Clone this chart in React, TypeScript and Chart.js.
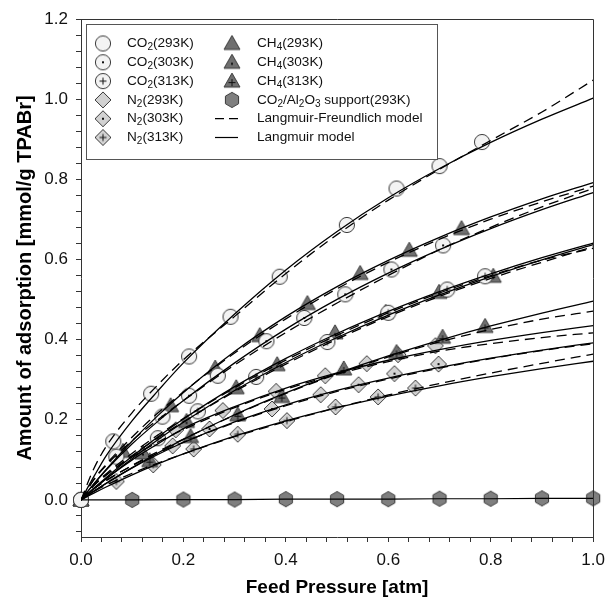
import React, { useEffect, useRef } from 'react';
import { Chart, registerables } from 'chart.js';

Chart.register(...registerables);

const FONT = '"Liberation Sans", Arial, Helvetica, sans-serif';

// ---- axes ----
const X_MAJOR = [0, 0.2, 0.4, 0.6, 0.8, 1.0];
const Y_MAJOR = [0, 0.2, 0.4, 0.6, 0.8, 1.0, 1.2];
const MINOR_STEP = 0.04;
const X_MIN = 0;
const X_MAX = 1;
const Y_MIN = -0.0925;
const Y_MAX = 1.2;
const X_TITLE = 'Feed Pressure [atm]';
const Y_TITLE = 'Amount of adsorption [mmol/g TPABr]';

// ---- measured points ----
const CO2_293_X = [0, 0.063, 0.137, 0.211, 0.292, 0.388, 0.519, 0.616, 0.7, 0.783];
const CO2_293_Y = [0, 0.146, 0.265, 0.358, 0.457, 0.557, 0.686, 0.777, 0.833, 0.893];
const CO2_303_X = [0, 0.069, 0.159, 0.211, 0.267, 0.362, 0.436, 0.516, 0.606, 0.707];
const CO2_303_Y = [0, 0.108, 0.208, 0.26, 0.31, 0.396, 0.454, 0.513, 0.575, 0.635];
const CO2_313_X = [0, 0.15, 0.228, 0.342, 0.481, 0.6, 0.715, 0.789];
const CO2_313_Y = [0, 0.154, 0.221, 0.307, 0.394, 0.467, 0.525, 0.558];
const N2_293_X = [0, 0.185, 0.277, 0.381, 0.477, 0.558, 0.619, 0.692];
const N2_293_Y = [0, 0.175, 0.223, 0.271, 0.31, 0.34, 0.3625, 0.385];
const N2_303_X = [0, 0.179, 0.251, 0.373, 0.468, 0.542, 0.612, 0.698];
const N2_303_Y = [0, 0.135, 0.177, 0.227, 0.2625, 0.2875, 0.315, 0.339];
const N2_313_X = [0, 0.069, 0.141, 0.22, 0.306, 0.402, 0.497, 0.58, 0.653];
const N2_313_Y = [0, 0.046, 0.0875, 0.127, 0.164, 0.198, 0.232, 0.257, 0.279];
const CH4_293_X = [0, 0.082, 0.175, 0.262, 0.349, 0.442, 0.545, 0.641, 0.743];
const CH4_293_Y = [0, 0.121, 0.235, 0.329, 0.41, 0.49, 0.565, 0.623, 0.677];
const CH4_303_X = [0, 0.121, 0.206, 0.303, 0.383, 0.496, 0.595, 0.699, 0.805];
const CH4_303_Y = [0, 0.117, 0.196, 0.28, 0.3375, 0.417, 0.468, 0.518, 0.558];
const CH4_313_X = [0, 0.134, 0.214, 0.306, 0.392, 0.513, 0.616, 0.706, 0.789];
const CH4_313_Y = [0, 0.098, 0.158, 0.2125, 0.258, 0.327, 0.368, 0.406, 0.433];
const SUP_X = [0, 0.1, 0.2, 0.3, 0.4, 0.5, 0.6, 0.7, 0.8, 0.9, 1.0];
const SUP_Y = [0, 0, 0.001, 0.001, 0.002, 0.002, 0.002, 0.003, 0.003, 0.004, 0.004];

// ---- model curves ----
const FIT_X = [0, 0.025, 0.05, 0.1, 0.15, 0.2, 0.3, 0.4, 0.5, 0.6, 0.7, 0.8, 0.9, 1.0];
const CO2_293_L = [0, 0.058, 0.112, 0.198, 0.272, 0.342, 0.464, 0.574, 0.67, 0.754, 0.827, 0.892, 0.95, 1.0025];
const CO2_293_LF = [0, 0.078, 0.135, 0.218, 0.287, 0.35, 0.458, 0.565, 0.662, 0.748, 0.825, 0.897, 0.968, 1.0475];
const CO2_303_L = [0, 0.04, 0.076, 0.14, 0.196, 0.248, 0.3419, 0.4262, 0.5003, 0.5659, 0.6244, 0.6769, 0.7242, 0.767];
const CO2_303_LF = [0, 0.05, 0.0874, 0.1484, 0.2, 0.248, 0.3368, 0.4177, 0.4913, 0.5602, 0.6244, 0.6803, 0.7314, 0.777];
const CO2_313_L = [0, 0.0273, 0.0537, 0.1036, 0.1502, 0.1938, 0.2729, 0.3429, 0.4052, 0.4612, 0.5116, 0.5573, 0.5989, 0.637];
const CO2_313_LF = [0, 0.0355, 0.0628, 0.1109, 0.1547, 0.1948, 0.2702, 0.3388, 0.4011, 0.4575, 0.508, 0.5528, 0.593, 0.632];
const CH4_293_L = [0, 0.0395, 0.0771, 0.1469, 0.2104, 0.2683, 0.3704, 0.4573, 0.5323, 0.5976, 0.6551, 0.706, 0.7513, 0.792];
const CH4_293_LF = [0, 0.0514, 0.0902, 0.1572, 0.2167, 0.2696, 0.3667, 0.4518, 0.527, 0.5928, 0.6505, 0.7004, 0.7438, 0.783];
const CH4_303_L = [0, 0.0289, 0.0566, 0.1088, 0.1571, 0.202, 0.2826, 0.3531, 0.4153, 0.4705, 0.5199, 0.5643, 0.6045, 0.641];
const CH4_303_LF = [0, 0.0376, 0.0662, 0.1164, 0.1618, 0.203, 0.2798, 0.3489, 0.4111, 0.4667, 0.5163, 0.5598, 0.5985, 0.628];
const CH4_313_L = [0, 0.0213, 0.0418, 0.0807, 0.117, 0.151, 0.2126, 0.2671, 0.3156, 0.3592, 0.3984, 0.434, 0.4664, 0.496];
const CH4_313_LF = [0, 0.0277, 0.0489, 0.0863, 0.1205, 0.1518, 0.2115, 0.2658, 0.314, 0.3567, 0.3944, 0.4253, 0.451, 0.471];
const N2_293_L = [0, 0.028, 0.0539, 0.1, 0.1398, 0.178, 0.2327, 0.2791, 0.317, 0.3485, 0.3751, 0.398, 0.4177, 0.435];
const N2_293_LF = [0, 0.0364, 0.0631, 0.107, 0.144, 0.1756, 0.2304, 0.2763, 0.3138, 0.345, 0.3713, 0.39, 0.405, 0.417];
const N2_303_L = [0, 0.0219, 0.0424, 0.0799, 0.1133, 0.1433, 0.1948, 0.2374, 0.2734, 0.304, 0.3305, 0.3537, 0.374, 0.392];
const N2_303_LF = [0, 0.0285, 0.0496, 0.0855, 0.1167, 0.144, 0.1929, 0.235, 0.2707, 0.3016, 0.3289, 0.3527, 0.3728, 0.39];
const N2_313_L = [0, 0.0168, 0.0328, 0.0627, 0.0899, 0.1149, 0.1593, 0.1973, 0.2303, 0.2592, 0.2847, 0.3074, 0.3277, 0.346];
const N2_313_LF = [0, 0.021, 0.0377, 0.0665, 0.0917, 0.1149, 0.1577, 0.1953, 0.2303, 0.2618, 0.2904, 0.3166, 0.3408, 0.364];

// ---- legend ----
const LEGEND_LABELS = [
  'CO_2(293K)', 'CO_2(303K)', 'CO_2(313K)', 'N_2(293K)', 'N_2(303K)', 'N_2(313K)',
  'CH_4(293K)', 'CH_4(303K)', 'CH_4(313K)', 'CO_2/Al_2O_3 support(293K)',
  'Langmuir-Freundlich model', 'Langmuir model',
];

const CIRCLE_FILL = '#f3f3f3';
const DIAMOND_FILL = '#d2d2d2';
const TRIANGLE_FILL = '#6f6f6f';
const HEX_FILL = '#7f7f7f';

function makeMarker(shape: string, fill: string, inner: string): HTMLCanvasElement {
  const S = 22;
  const c = document.createElement('canvas');
  c.width = S;
  c.height = S;
  const g = c.getContext('2d') as CanvasRenderingContext2D;
  const cx = S / 2;
  const cy = S / 2;
  let iy = cy;
  g.beginPath();
  if (shape === 'circle') {
    g.arc(cx, cy, 7.6, 0, Math.PI * 2);
  } else if (shape === 'diamond') {
    const r = 8;
    g.moveTo(cx, cy - r);
    g.lineTo(cx + r, cy);
    g.lineTo(cx, cy + r);
    g.lineTo(cx - r, cy);
    g.closePath();
  } else if (shape === 'triangle') {
    g.moveTo(cx, cy - 8);
    g.lineTo(cx + 8, cy + 6);
    g.lineTo(cx - 8, cy + 6);
    g.closePath();
    iy = cy + 1.5;
  } else {
    for (let i = 0; i < 6; i++) {
      const a = -Math.PI / 2 + (i * Math.PI) / 3;
      const px = cx + 7.6 * Math.cos(a);
      const py = cy + 7.6 * Math.sin(a);
      if (i === 0) g.moveTo(px, py);
      else g.lineTo(px, py);
    }
    g.closePath();
  }
  g.fillStyle = fill;
  g.fill();
  g.strokeStyle = '#3a3a3a';
  g.lineWidth = 1;
  g.stroke();
  g.fillStyle = '#111';
  g.strokeStyle = '#111';
  if (inner === 'dot') g.fillRect(cx - 1, iy - 1, 2, 2);
  if (inner === 'plus') {
    g.beginPath();
    g.moveTo(cx - 3.5, iy);
    g.lineTo(cx + 3.5, iy);
    g.moveTo(cx, iy - 3.5);
    g.lineTo(cx, iy + 3.5);
    g.stroke();
  }
  return c;
}

function drawRich(ctx: CanvasRenderingContext2D, text: string, x: number, y: number) {
  const runs: { t: string; sub: boolean }[] = [];
  for (let i = 0; i < text.length; i++) {
    if (text[i] === '_' && i + 1 < text.length) {
      runs.push({ t: text[i + 1], sub: true });
      i++;
    } else {
      const last = runs[runs.length - 1];
      if (last && !last.sub) last.t += text[i];
      else runs.push({ t: text[i], sub: false });
    }
  }
  let cx = x;
  for (const r of runs) {
    ctx.font = r.sub ? `10px ${FONT}` : `13.6px ${FONT}`;
    ctx.fillText(r.t, cx, r.sub ? y + 4 : y);
    cx += ctx.measureText(r.t).width;
  }
}

const isMajor = (v: number, majors: number[]) => majors.some((m) => Math.abs(m - v) < 1e-6);

export default function App() {
  const ref = useRef<HTMLCanvasElement | null>(null);

  useEffect(() => {
    if (!ref.current) return;
    const M = {
      co2a: makeMarker('circle', CIRCLE_FILL, 'none'),
      co2b: makeMarker('circle', CIRCLE_FILL, 'dot'),
      co2c: makeMarker('circle', CIRCLE_FILL, 'plus'),
      n2a: makeMarker('diamond', DIAMOND_FILL, 'none'),
      n2b: makeMarker('diamond', DIAMOND_FILL, 'dot'),
      n2c: makeMarker('diamond', DIAMOND_FILL, 'plus'),
      ch4a: makeMarker('triangle', TRIANGLE_FILL, 'none'),
      ch4b: makeMarker('triangle', TRIANGLE_FILL, 'dot'),
      ch4c: makeMarker('triangle', TRIANGLE_FILL, 'plus'),
      sup: makeMarker('hexagon', HEX_FILL, 'none'),
    };

    const curve = (ys: number[], dashed: boolean) => ({
      data: FIT_X.map((x, i) => ({ x, y: ys[i] })),
      showLine: true,
      borderColor: '#000',
      borderWidth: 1.3,
      borderDash: dashed ? [10, 6] : [],
      pointRadius: 0,
      pointHoverRadius: 0,
      fill: false,
      cubicInterpolationMode: 'monotone' as const,
    });
    const pts = (xs: number[], ys: number[], marker: HTMLCanvasElement) => ({
      data: xs.map((x, i) => ({ x, y: ys[i] })),
      showLine: false,
      pointStyle: marker,
      pointRadius: 7,
      pointHoverRadius: 7,
      clip: false as const,
    });

    const datasets: any[] = [
      curve(CO2_293_LF, true), curve(CO2_293_L, false),
      curve(CO2_303_LF, true), curve(CO2_303_L, false),
      curve(CO2_313_LF, true), curve(CO2_313_L, false),
      curve(CH4_293_LF, true), curve(CH4_293_L, false),
      curve(CH4_303_LF, true), curve(CH4_303_L, false),
      curve(CH4_313_LF, true), curve(CH4_313_L, false),
      curve(N2_293_LF, true), curve(N2_293_L, false),
      curve(N2_303_LF, true), curve(N2_303_L, false),
      curve(N2_313_LF, true), curve(N2_313_L, false),
      {
        data: SUP_X.map((x, i) => ({ x, y: SUP_Y[i] })),
        showLine: true, borderColor: '#000', borderWidth: 1.2, pointRadius: 0, tension: 0,
      },
      pts(CO2_293_X, CO2_293_Y, M.co2a),
      pts(CO2_303_X, CO2_303_Y, M.co2b),
      pts(CO2_313_X, CO2_313_Y, M.co2c),
      pts(CH4_293_X, CH4_293_Y, M.ch4a),
      pts(CH4_303_X, CH4_303_Y, M.ch4b),
      pts(CH4_313_X, CH4_313_Y, M.ch4c),
      pts(N2_293_X, N2_293_Y, M.n2a),
      pts(N2_303_X, N2_303_Y, M.n2b),
      pts(N2_313_X, N2_313_Y, M.n2c),
      pts(SUP_X, SUP_Y, M.sup),
    ];

    const legendMarkers = [M.co2a, M.co2b, M.co2c, M.n2a, M.n2b, M.n2c, M.ch4a, M.ch4b, M.ch4c, M.sup];

    const framePlugin = {
      id: 'frameLegend',
      afterDraw(chart: any) {
        const ctx: CanvasRenderingContext2D = chart.ctx;
        const a = chart.chartArea;
        ctx.save();
        ctx.strokeStyle = '#333';
        ctx.lineWidth = 1;
        ctx.beginPath();
        ctx.moveTo(Math.round(a.left), Math.round(a.top) + 0.5);
        ctx.lineTo(Math.round(a.right) + 0.5, Math.round(a.top) + 0.5);
        ctx.lineTo(Math.round(a.right) + 0.5, Math.round(a.bottom));
        ctx.stroke();

        // legend box
        const bx = 86.5, by = 24.5, bw = 351, bh = 135;
        ctx.fillStyle = '#fff';
        ctx.fillRect(bx, by, bw, bh);
        ctx.strokeStyle = '#555';
        ctx.strokeRect(bx, by, bw, bh);

        const rows = [43.5, 62.3, 81.1, 99.9, 118.7, 137.5];
        const col = [{ m: 103, t: 127 }, { m: 232, t: 257 }];
        ctx.fillStyle = '#111';
        ctx.textBaseline = 'middle';
        ctx.textAlign = 'left';
        for (let i = 0; i < LEGEND_LABELS.length; i++) {
          const c = col[i < 6 ? 0 : 1];
          const y = rows[i % 6];
          if (i < legendMarkers.length) {
            const mk = legendMarkers[i];
            ctx.drawImage(mk, c.m - mk.width / 2, y - mk.height / 2);
          } else {
            ctx.save();
            ctx.strokeStyle = '#000';
            ctx.lineWidth = 1.2;
            ctx.setLineDash(i === 10 ? [9, 5] : []);
            ctx.beginPath();
            ctx.moveTo(215, y);
            ctx.lineTo(238, y);
            ctx.stroke();
            ctx.restore();
          }
          ctx.fillStyle = '#111';
          drawRich(ctx, LEGEND_LABELS[i], c.t, y);
        }
        ctx.restore();
      },
    };

    const chart = new Chart(ref.current, {
      type: 'scatter',
      data: { datasets },
      options: {
        responsive: false,
        animation: false,
        devicePixelRatio: 1,
        events: [],
        layout: { padding: { top: 19, right: 14, left: 0, bottom: 0 } },
        plugins: { legend: { display: false }, tooltip: { enabled: false } },
        scales: {
          x: {
            type: 'linear',
            min: X_MIN,
            max: X_MAX,
            afterBuildTicks: (s: any) => {
              const t = [];
              for (let i = 0; i <= Math.round((X_MAX - X_MIN) / MINOR_STEP); i++) t.push({ value: +(X_MIN + i * MINOR_STEP).toFixed(4) });
              s.ticks = t;
            },
            afterFit: (s: any) => { s.height = 68; },
            grid: { display: true, drawOnChartArea: false, drawTicks: true, tickLength: 5, color: '#333', tickColor: '#333' },
            border: { display: true, color: '#333', width: 1 },
            ticks: {
              autoSkip: false, maxRotation: 0, padding: 8, color: '#111',
              font: { family: FONT, size: 17 },
              callback: (v: any) => (isMajor(Number(v), X_MAJOR) ? Number(v).toFixed(1) : ''),
            },
            title: {
              display: true, text: X_TITLE, color: '#000',
              font: { family: FONT, size: 19, weight: 'bold' },
              padding: { top: 0, bottom: 6 },
            },
          },
          y: {
            type: 'linear',
            min: Y_MIN,
            max: Y_MAX,
            afterBuildTicks: (s: any) => {
              const t = [];
              for (let i = -2; i <= Math.round(Y_MAX / MINOR_STEP); i++) t.push({ value: +(i * MINOR_STEP).toFixed(4) });
              s.ticks = t;
            },
            afterFit: (s: any) => { s.width = 81; },
            grid: { display: true, drawOnChartArea: false, drawTicks: true, tickLength: 5, color: '#333', tickColor: '#333' },
            border: { display: true, color: '#333', width: 1 },
            ticks: {
              autoSkip: false, padding: 8, color: '#111',
              font: { family: FONT, size: 17 },
              callback: (v: any) => (isMajor(Number(v), Y_MAJOR) ? Number(v).toFixed(1) : ''),
            },
            title: {
              display: true, text: Y_TITLE, color: '#000',
              font: { family: FONT, size: 20, weight: 'bold' },
              padding: { top: 13, bottom: 0 },
            },
          },
        },
      },
      plugins: [framePlugin],
    } as any);

    return () => chart.destroy();
  }, []);

  return (
    <div style={{ position: 'fixed', left: 0, top: 0, width: 613, height: 605, background: '#fff' }}>
      <canvas ref={ref} width={613} height={605} style={{ display: 'block' }} />
    </div>
  );
}
